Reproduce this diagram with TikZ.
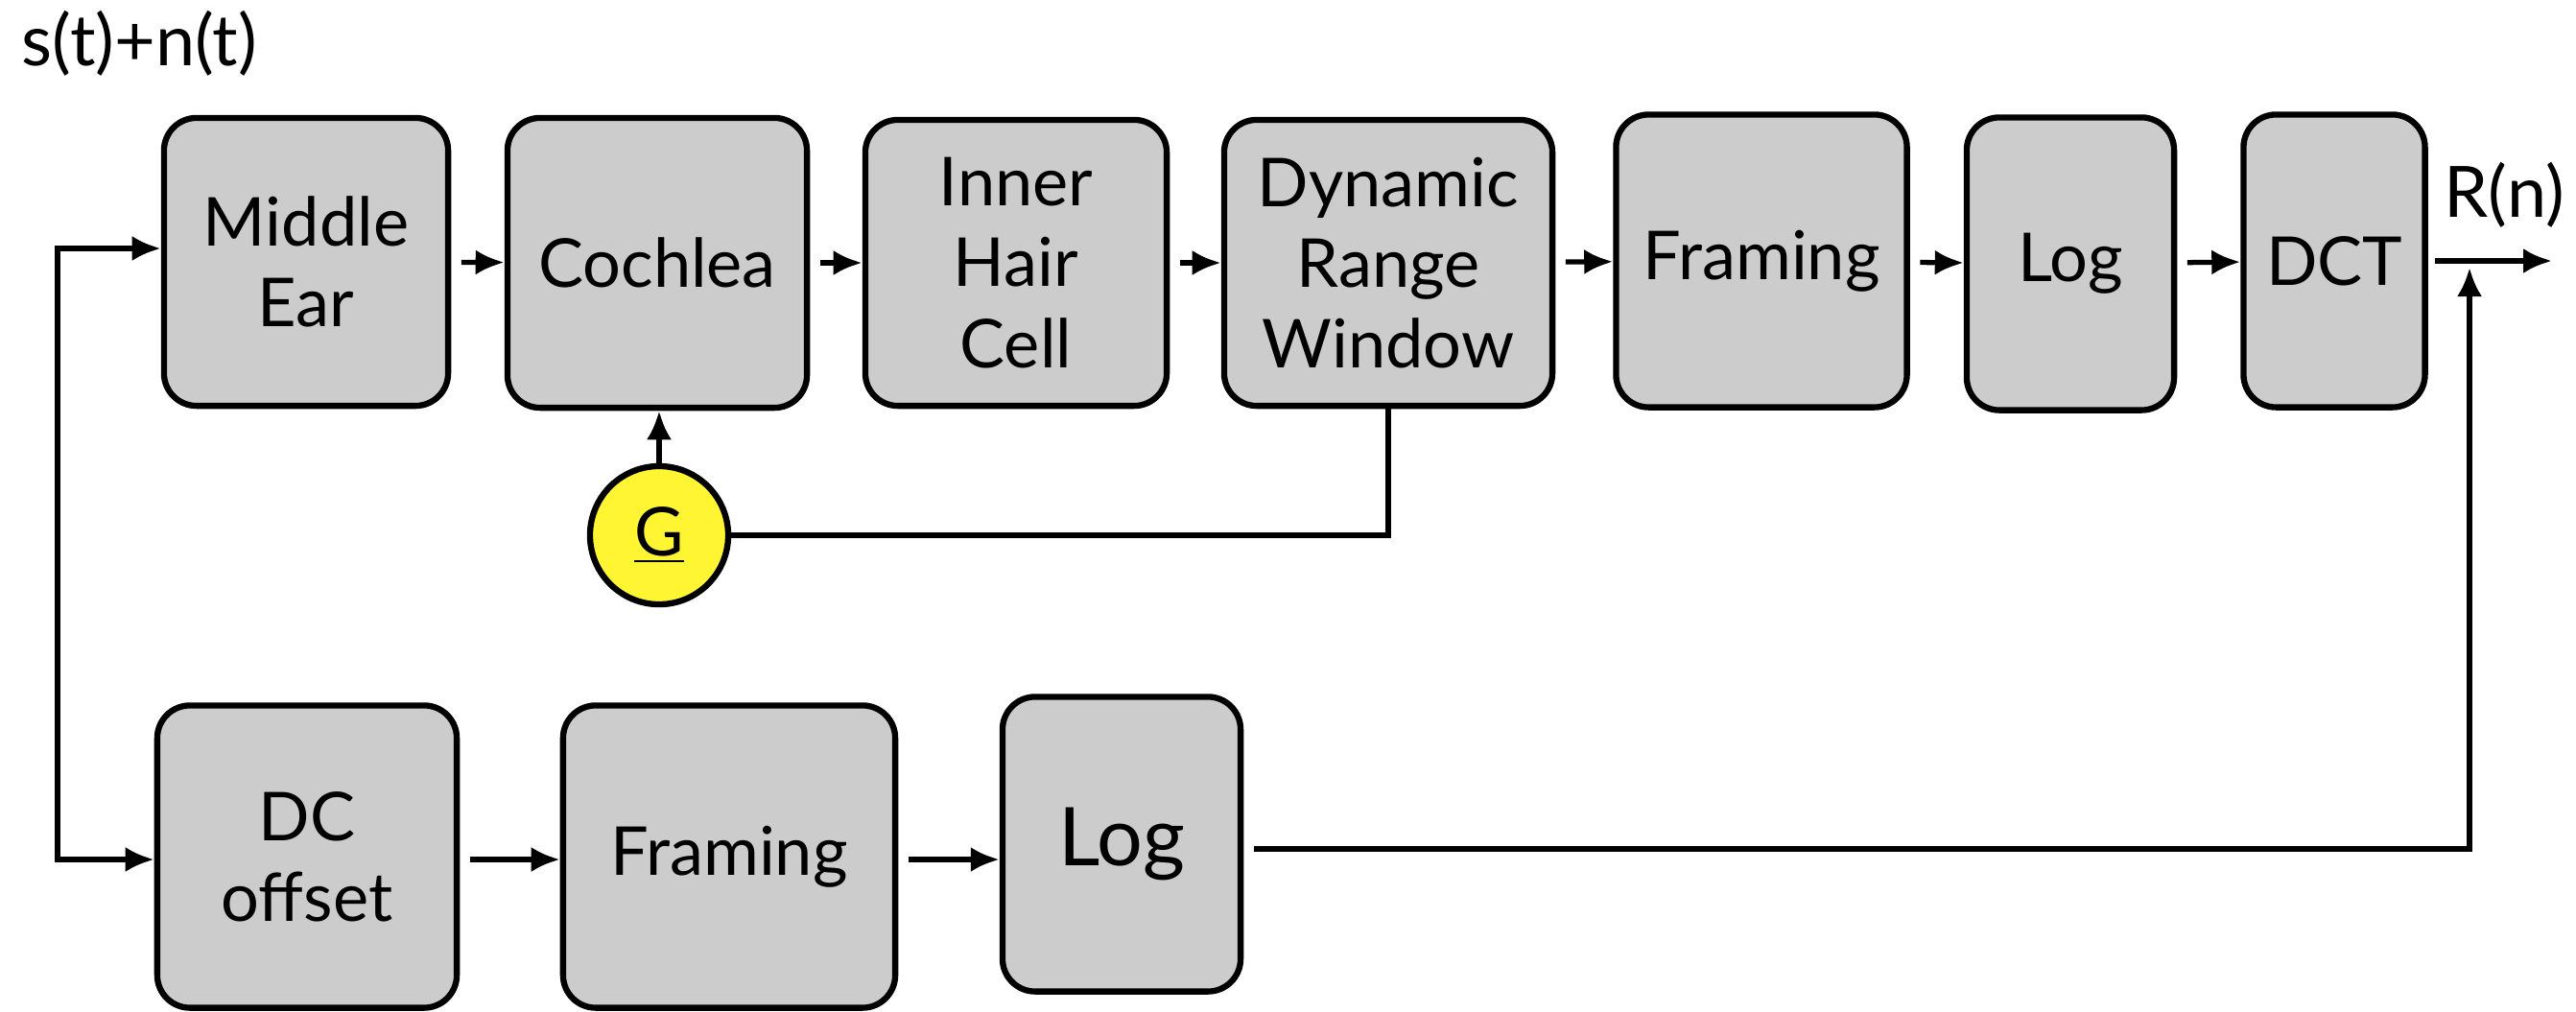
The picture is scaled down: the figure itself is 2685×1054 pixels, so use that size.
\documentclass[tikz,border=0pt]{standalone}
\usepackage{fontspec}
\setmainfont{Lato}
\usetikzlibrary{arrows.meta}
\tikzset{
	blk/.style={draw=black,fill=black!20,line width=1.8pt,rounded corners=0.34cm,align=center,inner sep=0pt},
	every picture/.append style={font=\fontsize{20}{24}\selectfont}
	}

\begin{document}
\begin{tikzpicture}[x=0.01cm,y=-0.01cm,>={Latex[length=3mm,width=2.6mm]},line width=1.5pt]
		% \draw[help lines] (0,0) grid (2685,1054);
		\useasboundingbox (0,0) rectangle (2685,1054);

		%% Main chain
		\node[blk,minimum width=2.96cm,minimum height=3.0cm] (me) at (319,273) {Middle\\Ear};
		\node[blk,minimum width=3.12cm,minimum height=3.02cm] (coch) at (685,274) {Cochlea};
		\node[blk,minimum width=3.14cm,minimum height=2.98cm] (ihc) at (1059,274) {Inner\\Hair\\Cell};
		\node[blk,minimum width=3.42cm,minimum height=2.98cm] (drw) at (1447,274) {Dynamic\\Range\\Window};
		\node[blk,minimum width=3.03cm,minimum height=3.05cm] (fr1) at (1836,272) {Framing};
		\node[blk,minimum width=2.16cm,minimum height=3.05cm] (log1) at (2158,275) {Log};
		\node[blk,minimum width=1.89cm,minimum height=3.05cm] (dct) at (2433,272) {DCT};

		%% Energy branch
		\node[blk,minimum width=3.12cm,minimum height=3.15cm] (dco) at (320,893) {DC\\offset};
		\node[blk,minimum width=3.46cm,minimum height=3.15cm] (fr2) at (760,893) {Framing};
		\node[blk,minimum width=2.48cm,minimum height=3.07cm] (log2) at (1169,880) {\fontsize{24}{28}\selectfont Log};

		%% Gain
		\node[circle,draw=black,fill=yellow!80!white,line width=1.8pt,minimum size=1.44cm,inner sep=0pt] (g) at (687,558) {\underline{G}};

		%% Labels
		\node[anchor=base west,inner sep=0pt] (sig) at (20,68) {\fontsize{21}{24}\selectfont s(t)+n(t)};
		\node[anchor=base west,inner sep=0pt] (rn) at (2545,226) {\fontsize{21}{24}\selectfont R(n)};

		\coordinate (split) at (60,259);
		\coordinate (split2) at (60,896);
		\coordinate (out) at (2660,272);
		\coordinate (fb) at (2574,279);

		\draw[<->] (me.west |- split) -- (split) -- (split2) -- (dco.west |- split2);

		\path[->,shorten <=3pt] (me) edge (coch);
		\path[->,shorten <=3pt] (coch) edge (ihc);
		\path[->,shorten <=3pt] (ihc) edge (drw);
		\path[->,shorten <=3pt] (drw) edge (fr1);
		\path[->,shorten <=3pt] (fr1) edge (log1);
		\path[->,shorten <=3pt] (log1) edge (dct);
		\draw[->,shorten <=2pt] (dct.east) -- (out);

		\path[->,shorten <=3pt] (dco.east |- split2) edge (fr2.west |- split2);
		\path[->,shorten <=3pt] (fr2.east |- split2) edge (log2.west |- split2);
		\draw[->,shorten <=3pt] (log2.east |- 0,885) -- (fb |- 0,885) -- (fb);

		\draw[->] (g.north) -- (coch.south -| g.north);
		\draw (drw.south) |- (g.east);
	\end{tikzpicture}
\end{document}
